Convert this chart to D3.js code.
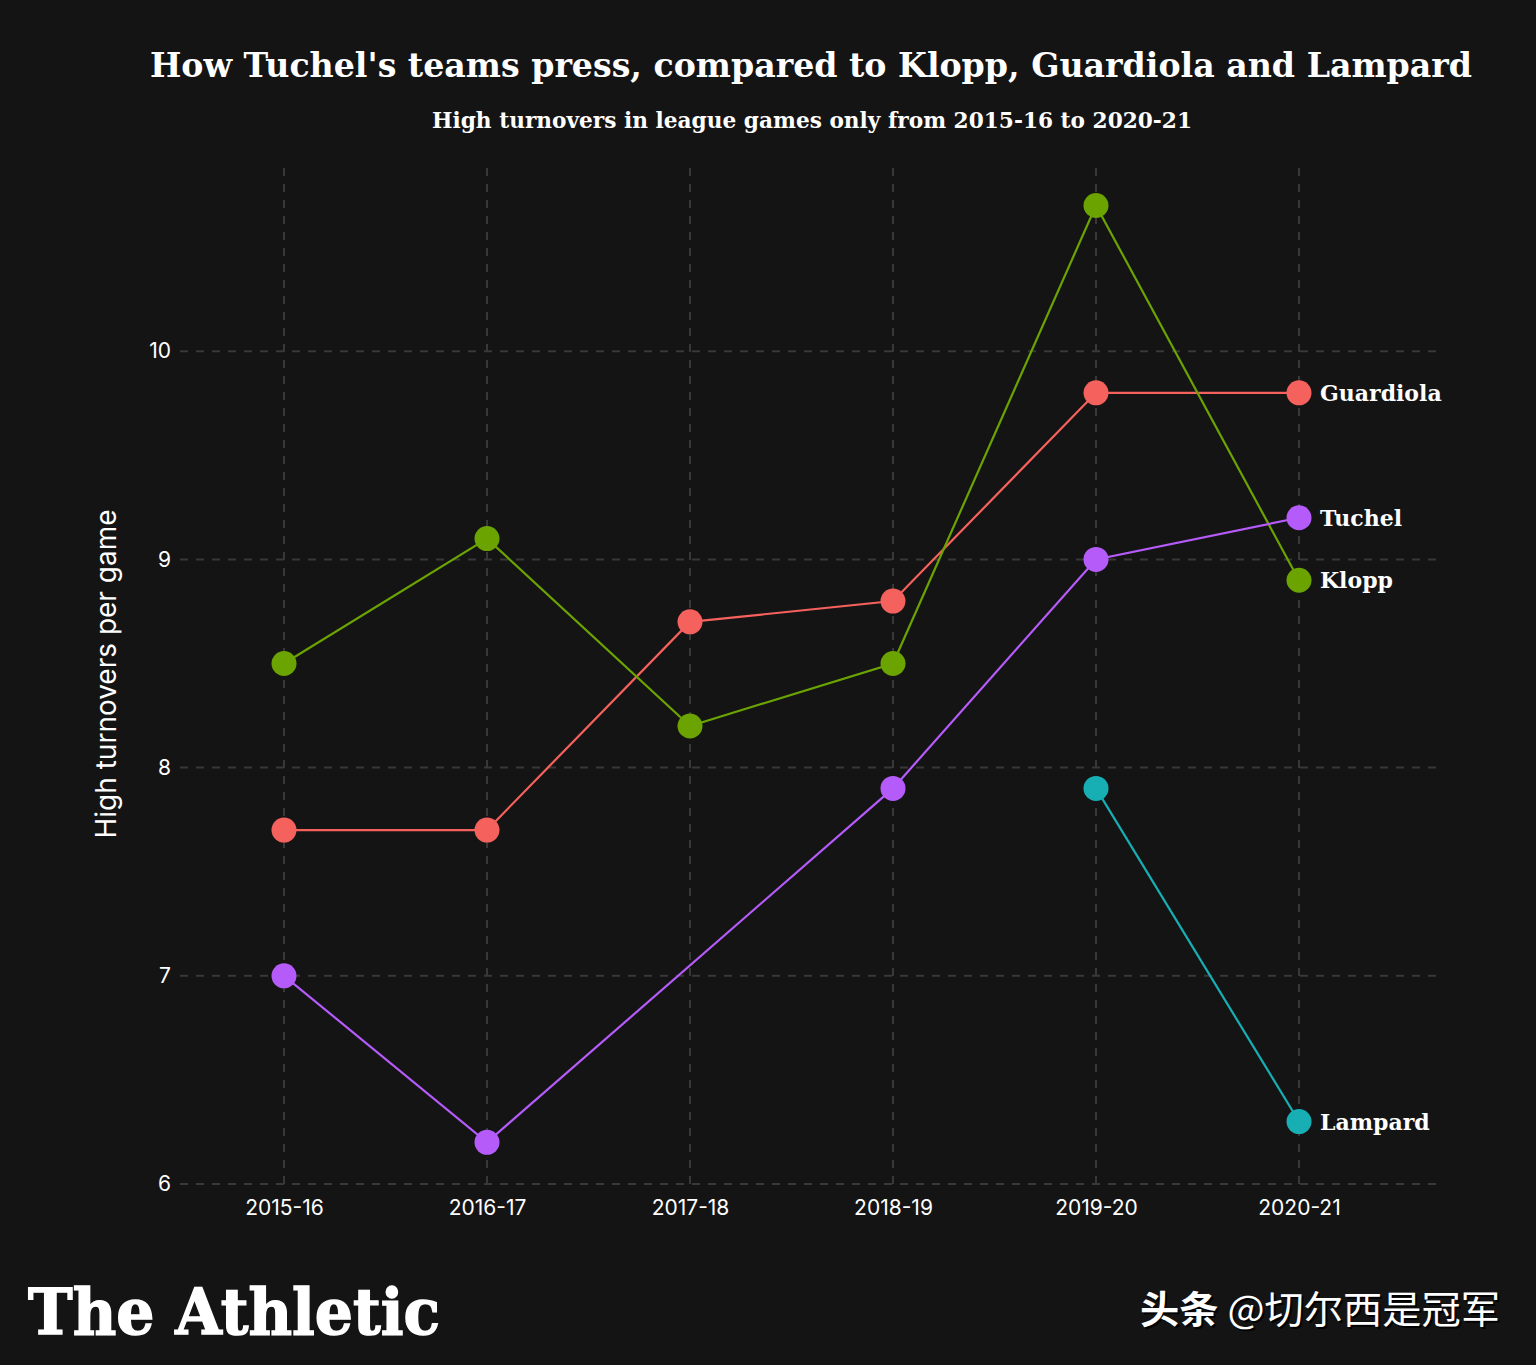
<!DOCTYPE html>
<html><head><meta charset="utf-8">
<script src="https://cdn.jsdelivr.net/npm/d3@7"></script>
<style>
html,body{margin:0;padding:0;background:#141414;}
svg{display:block;}
</style></head>
<body>
<script>
const seasons = ["2015-16","2016-17","2017-18","2018-19","2019-20","2020-21"];
const guardiola = [7.7, 7.7, 8.7, 8.8, 9.8, 9.8];
const klopp     = [8.5, 9.1, 8.2, 8.5, 10.7, 8.9];
const tuchel    = [7.0, 6.2, null, 7.9, 9.0, 9.2];
const lampard   = [null, null, null, null, 7.9, 6.3];
const yTicks = [6, 7, 8, 9, 10];
const managers = ["Guardiola","Klopp","Lampard","Tuchel"];
const seriesValues = {Guardiola: guardiola, Klopp: klopp, Lampard: lampard, Tuchel: tuchel};
const colors = {Guardiola:"#F5615C", Klopp:"#6BA300", Lampard:"#17AFB4", Tuchel:"#B55BFA"};

const W = 1536, H = 1365;
const svg = d3.select("body").append("svg").attr("width", W).attr("height", H);
svg.append("rect").attr("width", W).attr("height", H).attr("fill", "#141414");

const plotL = 180, plotR = 1440, plotT = 168, plotB = 1184;
const x = d3.scalePoint().domain(seasons).range([284, 1299]).padding(0);
const y = d3.scaleLinear().domain([6, 10.88]).range([plotB, plotT]);

const grid = svg.append("g");
grid.selectAll("line.h").data(yTicks).join("line")
  .attr("x1", plotL).attr("x2", plotR)
  .attr("y1", d => y(d)).attr("y2", d => y(d))
  .attr("stroke", "#383838").attr("stroke-width", 2).attr("stroke-dasharray", "8,8");
grid.selectAll("line.v").data(seasons).join("line")
  .attr("x1", d => x(d)).attr("x2", d => x(d))
  .attr("y1", plotT).attr("y2", plotB)
  .attr("stroke", "#383838").attr("stroke-width", 2).attr("stroke-dasharray", "8,8");

// axes
const yAxis = svg.append("g").attr("transform", `translate(${plotL},0)`)
  .call(d3.axisLeft(y).tickValues(yTicks).tickFormat(d3.format("d")).tickSize(0).tickPadding(9));
yAxis.select(".domain").remove();
yAxis.selectAll("text").attr("fill", "#ffffff").attr("font-family", "Inter, 'Noto Sans', sans-serif")
  .attr("font-size", 21);

const xAxis = svg.append("g").attr("transform", `translate(0,${plotB})`)
  .call(d3.axisBottom(x).tickSize(0).tickPadding(16));
xAxis.select(".domain").remove();
xAxis.selectAll("text").attr("fill", "#ffffff").attr("font-family", "Inter, 'Noto Sans', sans-serif")
  .attr("font-size", 21);

svg.append("text").attr("transform", `translate(116,${674}) rotate(-90)`)
  .attr("text-anchor", "middle").attr("fill", "#ffffff")
  .attr("font-family", "Inter, 'Noto Sans', sans-serif").attr("font-size", 28)
  .text("High turnovers per game");

// lines
const line = d3.line().x(d => x(d.s)).y(d => y(d.v));
managers.forEach(m => {
  const pts = seasons.map((s, i) => ({s, v: seriesValues[m][i]})).filter(d => d.v != null);
  svg.append("path").datum(pts).attr("d", line)
    .attr("fill", "none").attr("stroke", colors[m]).attr("stroke-width", 2.2);
});
managers.forEach(m => {
  const pts = seasons.map((s, i) => ({s, v: seriesValues[m][i]})).filter(d => d.v != null);
  svg.append("g").selectAll("circle").data(pts).join("circle")
    .attr("cx", d => x(d.s)).attr("cy", d => y(d.v)).attr("r", 12.5)
    .attr("fill", colors[m]);
  const last = pts[pts.length - 1];
  svg.append("text").attr("x", x(last.s) + 21).attr("y", y(last.v) + 8)
    .attr("fill", "#ffffff").attr("font-family", "'DejaVu Serif', serif")
    .attr("font-weight", "bold").attr("font-size", 22).text(m);
});

// titles
svg.append("text").attr("x", 811).attr("y", 77).attr("text-anchor", "middle")
  .attr("fill", "#ffffff").attr("font-family", "'DejaVu Serif', serif").attr("font-weight", "bold")
  .attr("font-size", 34).attr("textLength", 1322).attr("lengthAdjust", "spacingAndGlyphs")
  .text("How Tuchel's teams press, compared to Klopp, Guardiola and Lampard");
svg.append("text").attr("x", 812).attr("y", 128).attr("text-anchor", "middle")
  .attr("fill", "#ffffff").attr("font-family", "'DejaVu Serif', serif").attr("font-weight", "bold")
  .attr("font-size", 23).attr("textLength", 760).attr("lengthAdjust", "spacingAndGlyphs")
  .text("High turnovers in league games only from 2015-16 to 2020-21");

// footer
svg.append("text").attr("x", 28).attr("y", 1334)
  .attr("fill", "#ffffff").attr("font-family", "'DejaVu Serif', serif").attr("font-weight", "bold")
  .attr("font-size", 64).attr("textLength", 412).attr("lengthAdjust", "spacingAndGlyphs")
  .attr("stroke", "#ffffff").attr("stroke-width", 1.5)
  .text("The Athletic");
const wm = svg.append("g").attr("font-family", "'Noto Sans CJK SC', sans-serif").attr("font-size", 38);
const wmShadow = wm.append("text").attr("x", 1142).attr("y", 1325).attr("fill", "#000000").attr("opacity", 0.85)
  .attr("textLength", 360).attr("lengthAdjust", "spacingAndGlyphs");
wmShadow.append("tspan").attr("font-weight", "bold").text("头条 ");
wmShadow.append("tspan").text("@切尔西是冠军");
const wmText = wm.append("text").attr("x", 1140).attr("y", 1323).attr("fill", "#ffffff")
  .attr("textLength", 360).attr("lengthAdjust", "spacingAndGlyphs");
wmText.append("tspan").attr("font-weight", "bold").text("头条 ");
wmText.append("tspan").text("@切尔西是冠军");
</script>
</body></html>
